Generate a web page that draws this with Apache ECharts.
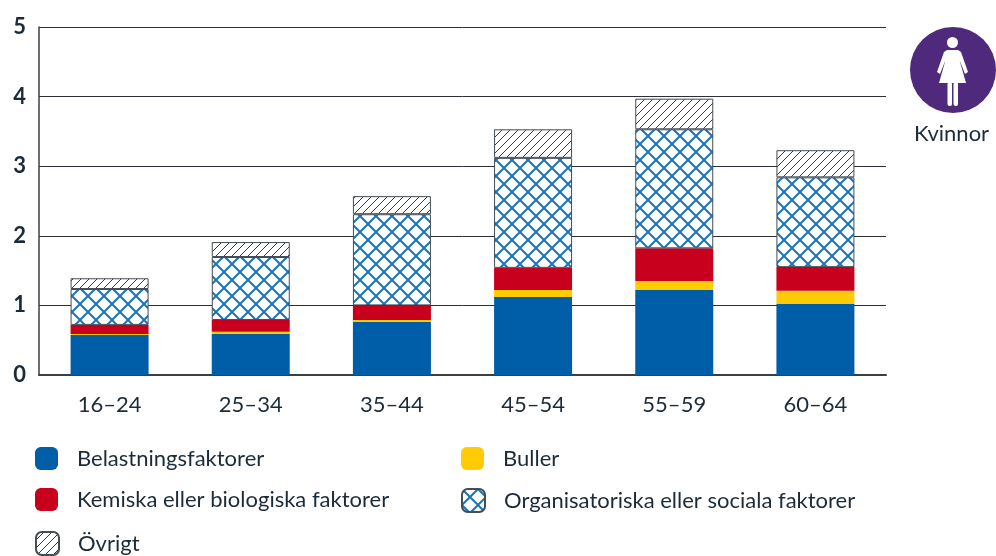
<!DOCTYPE html>
<html><head><meta charset="utf-8">
<style>html,body{margin:0;padding:0;background:#fff}#c{width:996px;height:556px}</style>
<script src="https://cdn.jsdelivr.net/npm/echarts@6/dist/echarts.min.js"></script>
</head><body><div id="c"></div>
<script>
const categories = ['16–24','25–34','35–44','45–54','55–59','60–64'];
const yTicks = [0,1,2,3,4,5];
const belastning = [0.575,0.59,0.76,1.12,1.22,1.02];
const buller = [0.015,0.03,0.03,0.10,0.13,0.19];
const kemiska = [0.13,0.17,0.21,0.32,0.47,0.34];
const organisatoriska = [0.515,0.905,1.31,1.58,1.71,1.29];
const ovrigt = [0.155,0.215,0.26,0.41,0.44,0.39];
const FONT = 'Lato, "Open Sans", sans-serif';
const TXT = '#1c2b39';

function crossPattern(){
  const m=document.createElement('canvas');m.width=16;m.height=16;
  const x=m.getContext('2d');
  x.fillStyle='#fff';x.fillRect(0,0,16,16);
  x.strokeStyle='#1a74b8';x.lineWidth=2;
  x.beginPath();
  for(const o of [-16,0,16]){x.moveTo(o,0);x.lineTo(o+16,16);x.moveTo(o+16,0);x.lineTo(o,16);}
  x.stroke();
  return m;
}
function hatchPattern(){
  const m=document.createElement('canvas');m.width=8;m.height=8;
  const x=m.getContext('2d');
  x.fillStyle='#fff';x.fillRect(0,0,8,8);
  x.strokeStyle='#333c44';x.lineWidth=1;
  x.beginPath();
  for(const o of [-8,0,8]){x.moveTo(o,8);x.lineTo(o+8,0);}
  x.stroke();
  return m;
}
const crossFill={image:crossPattern(),repeat:'repeat'};
const hatchFill={image:hatchPattern(),repeat:'repeat'};

function bar(name,data,itemStyle){
  return {name,type:'bar',stack:'t',data,barWidth:78,itemStyle,emphasis:{disabled:true},animation:false};
}
function leg(name,left,top){
  return {show:true,data:[name],left,top,orient:'horizontal',itemWidth:23,itemHeight:23,
    selectedMode:false,padding:0,textStyle:{fontFamily:FONT,fontSize:22,color:TXT,padding:[0,0,0,14]}};
}
const chart=echarts.init(document.getElementById('c'),null,{renderer:'canvas'});
const border={borderColor:'#444c54',borderWidth:1};
const W='#fff';
chart.setOption({
  animation:false,
  backgroundColor:'#fff',
  grid:{left:39,right:110,top:27,bottom:181},
  xAxis:{type:'category',data:categories,
    axisTick:{show:false},
    axisLine:{lineStyle:{color:'#3a3f44',width:2}},
    axisLabel:{fontFamily:FONT,fontSize:22,color:TXT,margin:19}},
  yAxis:{type:'value',min:0,max:5,interval:1,
    axisTick:{show:false},
    axisLine:{show:true,lineStyle:{color:'#3a3f44',width:1.5}},
    splitLine:{lineStyle:{color:'#2c3036',width:1}},
    axisLabel:{fontFamily:FONT,fontSize:22,fontWeight:'bold',color:TXT,margin:13,padding:[0,0,5,0],
      formatter:v=>yTicks.includes(v)?String(v):''}},
  legend:[
    leg('Belastningsfaktorer',35,447),
    leg('Buller',461,447),
    leg('Kemiska eller biologiska faktorer',35,488),
    leg('Organisatoriska eller sociala faktorer',461,488),
    leg('Övrigt',35,531)
  ],
  series:[
    bar('Belastningsfaktorer',belastning,{color:'#005ea8'}),
    bar('Buller',buller,{color:'#ffcb05'}),
    bar('Kemiska eller biologiska faktorer',kemiska,{color:'#c8001e'}),
    bar('Organisatoriska eller sociala faktorer',organisatoriska,Object.assign({color:crossFill},border)),
    bar('Övrigt',ovrigt,Object.assign({color:hatchFill},border))
  ],
  graphic:[
    {type:'circle',silent:true,shape:{cx:953,cy:70,r:43},style:{fill:'#4f2a7c'}},
    {type:'circle',silent:true,shape:{cx:952.5,cy:42.5,r:5.5},style:{fill:W}},
    {type:'polygon',silent:true,shape:{points:[[947,50],[958,50],[961,52],[968,72],[965,74],[959.5,60],[966,83],[939,83],[945.5,60],[940,74],[937,72],[944,52]]},style:{fill:W}},
    {type:'rect',silent:true,shape:{x:947.5,y:82,width:4.5,height:24,r:2},style:{fill:W}},
    {type:'rect',silent:true,shape:{x:953.5,y:82,width:4.5,height:24,r:2},style:{fill:W}},
    {type:'text',silent:true,x:914,y:123,style:{text:'Kvinnor',fontFamily:FONT,fontSize:22,fill:TXT}}
  ]
});
</script></body></html>
